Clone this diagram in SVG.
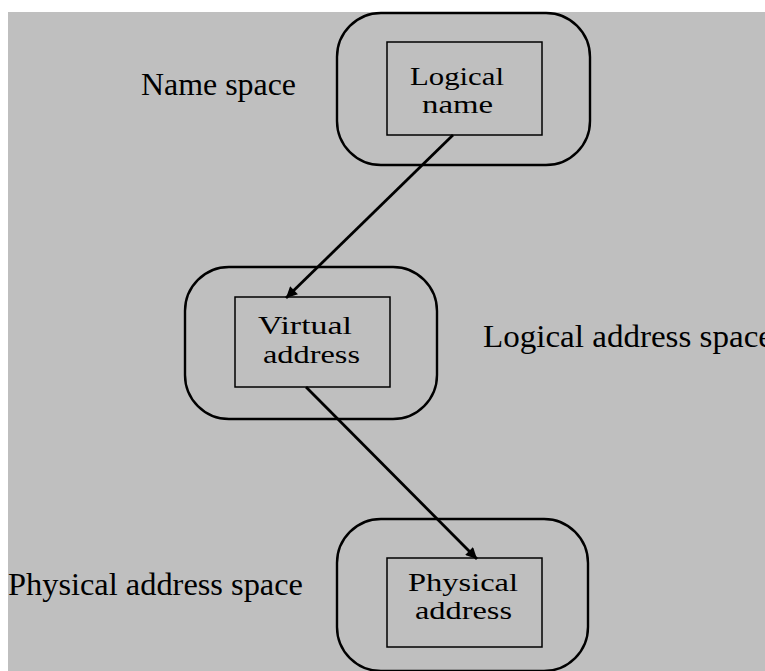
<svg xmlns="http://www.w3.org/2000/svg" width="765" height="671" viewBox="0 0 765 671">
<defs>
<style>
.outer{fill:none;stroke:#000;stroke-width:2.4}
.inner{fill:none;stroke:#000;stroke-width:1.5}
.t{font-family:"Liberation Serif","Times New Roman",serif;font-size:31px;fill:#000}
.n{font-family:"Liberation Serif","Times New Roman",serif;font-size:25px;fill:#000}
.edge{stroke:#000;stroke-width:2.8;fill:none}
</style>
<marker id="ah" viewBox="0 0 10 10" refX="10" refY="5" markerWidth="6" markerHeight="4" markerUnits="strokeWidth" orient="auto">
<path d="M0,0 L10,5 L0,10 Z" fill="#000"/>
</marker>
</defs>
<rect x="0" y="0" width="765" height="671" fill="#fff"/>
<rect x="8" y="12" width="757" height="659" fill="#bfbfbf"/>
<text class="t" x="141" y="95" textLength="155" lengthAdjust="spacingAndGlyphs">Name space</text>
<text class="t" x="483" y="347" textLength="290" lengthAdjust="spacingAndGlyphs">Logical address space</text>
<text class="t" x="8" y="595" textLength="295" lengthAdjust="spacingAndGlyphs">Physical address space</text>
<g id="logical-name">
<rect class="outer" x="337" y="13" width="253" height="152" rx="44" ry="44"/>
<rect class="inner" x="387" y="42" width="155" height="93"/>
<text class="n" x="410" y="85" textLength="94" lengthAdjust="spacingAndGlyphs">Logical</text>
<text class="n" x="422" y="113" textLength="71" lengthAdjust="spacingAndGlyphs">name</text>
</g>
<g id="virtual-address">
<rect class="outer" x="185" y="267" width="252" height="152" rx="44" ry="44"/>
<rect class="inner" x="235" y="297" width="155" height="90"/>
<text class="n" x="258" y="334" textLength="94" lengthAdjust="spacingAndGlyphs">Virtual</text>
<text class="n" x="263" y="363" textLength="97" lengthAdjust="spacingAndGlyphs">address</text>
</g>
<g id="physical-address">
<rect class="outer" x="337" y="519" width="251" height="152" rx="44" ry="44"/>
<rect class="inner" x="387" y="558" width="155" height="89"/>
<text class="n" x="408" y="591" textLength="110" lengthAdjust="spacingAndGlyphs">Physical</text>
<text class="n" x="415" y="619" textLength="97" lengthAdjust="spacingAndGlyphs">address</text>
</g>
<g id="connectors">
<line class="edge" x1="453" y1="135" x2="286" y2="298" marker-end="url(#ah)"/>
<line class="edge" x1="306" y1="387" x2="477" y2="559" marker-end="url(#ah)"/>
</g>
</svg>
